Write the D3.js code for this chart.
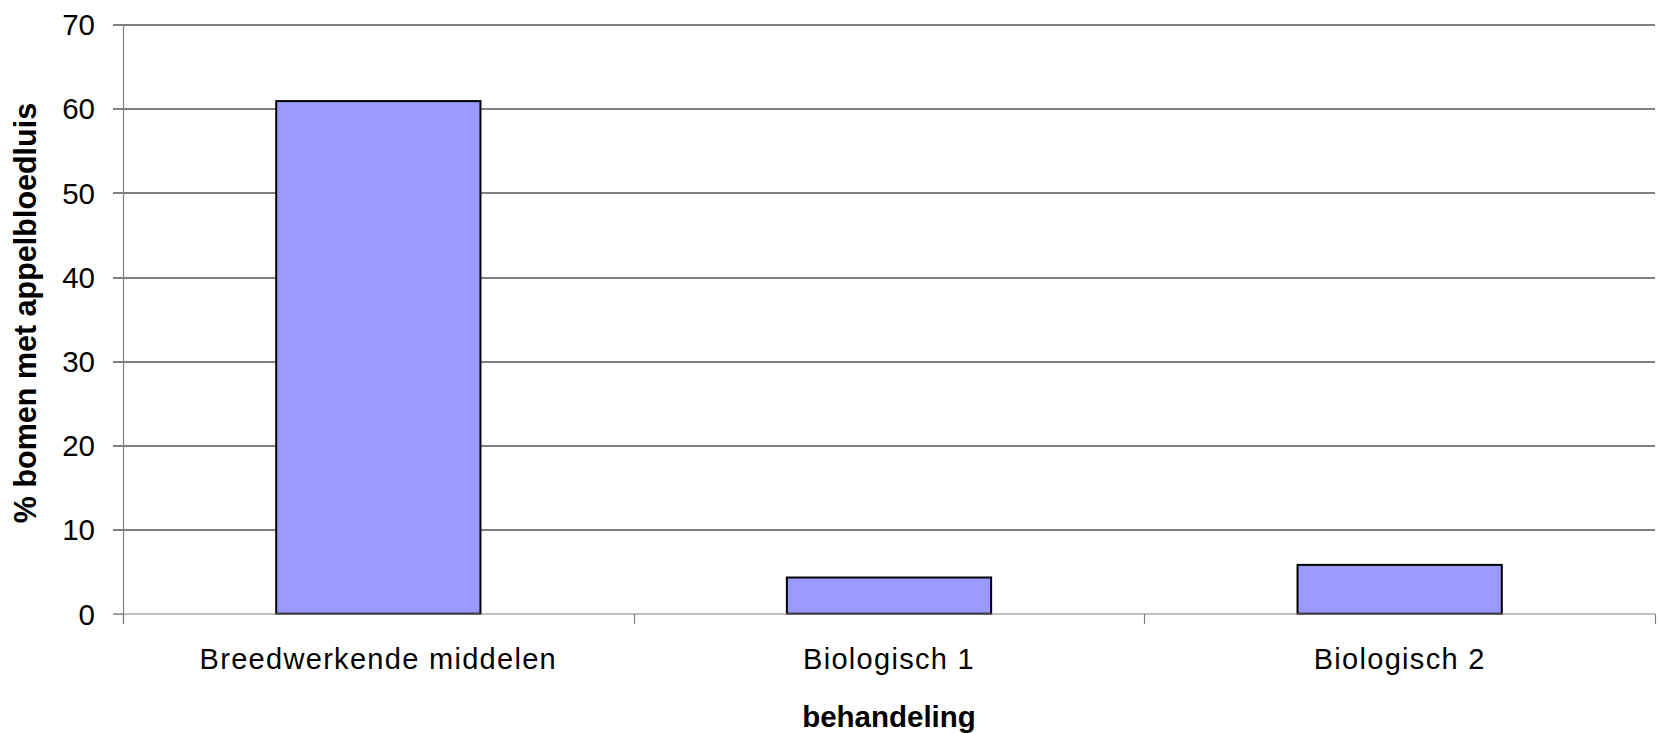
<!DOCTYPE html>
<html>
<head>
<meta charset="utf-8">
<script src="https://cdn.jsdelivr.net/npm/d3@7"></script>
<style>
  body { margin: 0; background: #fff; }
  text { font-family: "Liberation Sans", Arial, sans-serif; fill: #000; }
  .cat text { font-size: 29px; letter-spacing: 1.3px; }
  .y.axis text { font-size: 29.5px; }
  .title { font-size: 29.5px; font-weight: bold; }
  .ytitle { font-size: 30.5px; }
</style>
</head>
<body>
<div id="chart"></div>
<script>
var categories = ["Breedwerkende middelen", "Biologisch 1", "Biologisch 2"];
var values = [60.9, 4.3, 5.8];
var yTicks = [0, 10, 20, 30, 40, 50, 60, 70];

var W = 1660, H = 733;
var margin = {top: 24.5, right: 5, bottom: 119.3, left: 123};
var width = W - margin.left - margin.right,
    height = H - margin.top - margin.bottom;

var svg = d3.select("#chart").append("svg")
    .attr("width", W)
    .attr("height", H)
  .append("g")
    .attr("transform", "translate(" + margin.left + "," + margin.top + ")");

var x = d3.scaleBand().domain(categories).range([0, width]).padding(0);
var y = d3.scaleLinear().domain([0, 70]).range([height, 0]);

// gridlines
svg.append("g").selectAll("line")
    .data(yTicks.filter(function(d){ return d > 0; }))
  .enter().append("line")
    .attr("x1", -10).attr("x2", width)
    .attr("y1", function(d){ return Math.round(y(d)) + 0.5; })
    .attr("y2", function(d){ return Math.round(y(d)) + 0.5; })
    .style("stroke", "#000").style("stroke-width", 1);

// y axis
var yAxis = d3.axisLeft(y).tickValues(yTicks).tickSize(10).tickPadding(18);
var gy = svg.append("g").attr("class", "y axis").call(yAxis);
gy.select(".domain").remove();
gy.selectAll(".tick line").style("stroke", "#808080");
gy.selectAll("text").attr("dy", "0.35em");
svg.append("line")
    .attr("x1", 0.5).attr("x2", 0.5)
    .attr("y1", 0).attr("y2", height + 10)
    .style("stroke", "#808080").style("stroke-width", 1.2);

// bars
svg.selectAll(".bar")
    .data(values)
  .enter().append("rect")
    .attr("class", "bar")
    .attr("x", function(d, i){ return x(categories[i]) + x.bandwidth() * 0.3; })
    .attr("width", x.bandwidth() * 0.4)
    .attr("y", function(d){ return y(d); })
    .attr("height", function(d){ return height - y(d); })
    .style("fill", "#9999ff")
    .style("stroke", "#000")
    .style("stroke-width", 2);

// x axis
var xb = Math.round(y(0)) + 0.5;
svg.append("line")
    .attr("x1", -10).attr("x2", width)
    .attr("y1", xb).attr("y2", xb)
    .style("stroke", "#808080").style("stroke-width", 1.2);
var bounds = categories.map(function(c){ return x(c); }).concat([width]);
svg.append("g").selectAll("line")
    .data(bounds)
  .enter().append("line")
    .attr("x1", function(d){ return Math.round(d) + 0.5; })
    .attr("x2", function(d){ return Math.round(d) + 0.5; })
    .attr("y1", xb).attr("y2", xb + 10)
    .style("stroke", "#808080").style("stroke-width", 1.2);

svg.append("g").attr("class", "cat").selectAll("text")
    .data(categories)
  .enter().append("text")
    .attr("x", function(d){ return x(d) + x.bandwidth() / 2; })
    .attr("y", 668.5 - margin.top)
    .style("text-anchor", "middle")
    .text(function(d){ return d; });

// axis titles
svg.append("text")
    .attr("class", "title")
    .attr("x", width / 2)
    .attr("y", 726.5 - margin.top)
    .style("text-anchor", "middle")
    .text("behandeling");

svg.append("text")
    .attr("class", "title ytitle")
    .attr("transform", "translate(" + (36 - margin.left) + "," + (313 - margin.top) + ") rotate(-90)")
    .style("text-anchor", "middle")
    .text("% bomen met appelbloedluis");
</script>
</body>
</html>
